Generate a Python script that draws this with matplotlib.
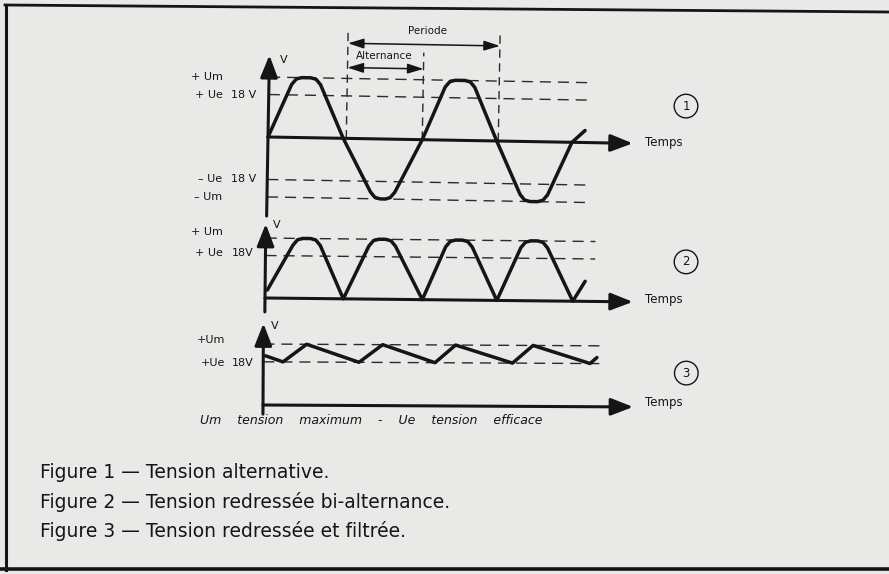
import matplotlib
matplotlib.use("Agg")
import matplotlib.pyplot as plt
from matplotlib.lines import Line2D
from matplotlib.transforms import Affine2D

# ---------------- data (time in ms, voltage in V) ----------------
UM = 25.4   # tension maximum
UE = 18.0   # tension efficace

# Figure 1 : tension alternative
t1 = [0.0, 3.0, 3.6, 4.3, 5.5, 6.2, 6.8, 9.9,
      13.6, 14.2, 14.9, 15.6, 16.2, 16.8, 20.3,
      23.2, 23.8, 24.5, 25.8, 26.5, 27.1, 30.1,
      33.3, 33.9, 34.6, 35.6, 36.3, 36.9, 40.0, 41.7]
v1 = [0.0, 22.5, 24.8, 25.4, 25.4, 24.8, 22.5, 0.0,
      -22.5, -24.8, -25.4, -25.4, -24.8, -22.5, 0.0,
      22.5, 24.8, 25.4, 25.4, 24.8, 22.5, 0.0,
      -22.5, -24.8, -25.4, -25.4, -24.8, -22.5, 0.0, 5.1]

# Figure 2 : tension redressee bi-alternance
t2 = [0.3, 3.6, 4.2, 4.9, 5.9, 6.6, 7.2, 10.3,
      13.6, 14.2, 14.9, 15.8, 16.5, 17.1, 20.7,
      23.7, 24.3, 25.0, 25.9, 26.6, 27.2, 30.5,
      33.6, 34.2, 34.9, 35.8, 36.5, 37.1, 40.5, 42.1]
v2 = [3.4, 22.5, 24.8, 25.4, 25.4, 24.8, 22.5, 0.0,
      22.5, 24.8, 25.4, 25.4, 24.8, 22.5, 0.0,
      22.5, 24.8, 25.4, 25.4, 24.8, 22.5, 0.0,
      22.5, 24.8, 25.4, 25.4, 24.8, 22.5, 0.0, 8.5]

# Figure 3 : tension redressee et filtree
t3 = [0.3, 2.6, 5.7, 12.6, 15.7, 22.6, 25.3, 32.8, 35.5, 43.0, 43.9]
v3 = [20.5, 18.0, 25.4, 18.0, 25.4, 18.0, 25.4, 18.0, 25.4, 18.0, 20.5]

# Periode / Alternance markers (ms)
t_period = [10.3, 30.3]
t_alt = [10.3, 20.3]

captions = ["Figure 1 \u2014 Tension alternative.",
            "Figure 2 \u2014 Tension redress\u00e9e bi-alternance.",
            "Figure 3 \u2014 Tension redress\u00e9e et filtr\u00e9e."]
legend_note = "Um    tension    maximum    -    Ue    tension    efficace"

# ---------------- figure ----------------
W, H = 889, 574
BG = "#e9e9e7"
INK = "#151515"
DASH = "#2a2a2a"
fig = plt.figure(figsize=(W / 100, H / 100), dpi=100, facecolor=BG)

SX = 7.6  # px per ms


def panel(ox, oy, sy, L, R, T, B, tilt):
    ax = fig.add_axes([L / W, 1 - B / H, (R - L) / W, (B - T) / H])
    ax.set_xlim((L - ox) / SX, (R - ox) / SX)
    ax.set_ylim((oy - B) / sy, (oy - T) / sy)
    ax.axis("off")
    ax.patch.set_visible(False)
    # slight rotation of the scanned drawing
    tr = ax.transData + Affine2D().rotate_deg_around(ox, H - oy, -tilt)
    return ax, tr


def axes_arrows(ax, tr, tmax, vbot, vtop):
    ap = dict(arrowstyle="-|>,head_length=0.9,head_width=0.35", lw=2.2,
              color=INK, shrinkA=0, shrinkB=0, mutation_scale=15)
    ax.annotate("", xy=(tmax, 0), xytext=(0, 0), xycoords=tr,
                textcoords=tr, arrowprops=ap)
    ax.annotate("", xy=(0, vtop), xytext=(0, vbot), xycoords=tr,
                textcoords=tr, arrowprops=ap)


def hdash(ax, tr, v, tend):
    ax.plot([0, tend], [v, v], color=DASH, lw=1.0,
            linestyle=(0, (8, 5)), clip_on=False, transform=tr)


def wave(ax, tr, t, v):
    ax.plot(t, v, color=INK, lw=2.5, solid_joinstyle="round",
            solid_capstyle="round", clip_on=False, transform=tr)


lab = dict(fontsize=8, color=INK, va="center", family="DejaVu Sans")
circ = dict(boxstyle="circle,pad=0.45", fc="none", ec=INK, lw=1.0)

# ---- Panel 1 ----
ax1, tr1 = panel(268, 137, 2.36, 195, 720, 20, 218, 1.0)
for v in (UM, UE, -UE, -UM):
    hdash(ax1, tr1, v, 42.4)
for tp in t_period:
    ax1.plot([tp, tp], [0, 46.6], color=DASH, lw=1.0,
             linestyle=(0, (6, 4)), clip_on=False, transform=tr1)
ax1.plot([t_alt[1], t_alt[1]], [0, 36.9], color=DASH, lw=1.0,
         linestyle=(0, (6, 4)), clip_on=False, transform=tr1)
dbl = dict(arrowstyle="<|-|>,head_length=0.8,head_width=0.25", lw=1.1,
           color=INK, shrinkA=0, shrinkB=0, mutation_scale=12)
ax1.annotate("", xy=(t_period[0], 40.3), xytext=(t_period[1], 40.3),
             xycoords=tr1, textcoords=tr1, arrowprops=dbl)
ax1.annotate("", xy=(t_alt[0], 30.0), xytext=(t_alt[1], 30.0),
             xycoords=tr1, textcoords=tr1, arrowprops=dbl)
ax1.text(sum(t_period) / 2 + 0.7, 45.0, "Periode", fontsize=7.5, color=INK,
         ha="center", va="center")
ax1.text(sum(t_alt) / 2, 34.4, "Alternance", fontsize=7.5, color=INK,
         ha="center", va="center")
wave(ax1, tr1, t1, v1)
axes_arrows(ax1, tr1, 48.0, -33.5, 34.7)
ax1.text(1.6, 32.6, "V", **lab)
ax1.text(-6.0, UM, "+ Um", ha="right", **lab)
ax1.text(-6.0, UE, "+ Ue", ha="right", **lab)
ax1.text(-1.5, UE, "18 V", ha="right", **lab)
ax1.text(-6.0, -UE, "\u2013 Ue", ha="right", **lab)
ax1.text(-1.5, -UE, "18 V", ha="right", **lab)
ax1.text(-6.0, -UM, "\u2013 Um", ha="right", **lab)
ax1.text(49.6, -2.5, "Temps", fontsize=8.5, color=INK, ha="left",
         va="center")
ax1.text(55.0, 13.1, "1", fontsize=8.5, color=INK, ha="center",
         va="center", bbox=circ)

# ---- Panel 2 ----
ax2, tr2 = panel(265, 298, 2.36, 195, 720, 220, 316, 0.6)
for v in (UM, UE):
    hdash(ax2, tr2, v, 43.4)
wave(ax2, tr2, t2, v2)
axes_arrows(ax2, tr2, 48.4, -5.9, 31.4)
ax2.text(1.0, 31.0, "V", **lab)
ax2.text(-5.5, UM + 2.5, "+ Um", ha="right", **lab)
ax2.text(-5.5, UE + 1.0, "+ Ue", ha="right", **lab)
ax2.text(-1.5, UE + 1.0, "18V", ha="right", **lab)
ax2.text(50.0, -0.8, "Temps", fontsize=8.5, color=INK, ha="left",
         va="center")
ax2.text(55.4, 15.3, "2", fontsize=8.5, color=INK, ha="center",
         va="center", bbox=circ)

# ---- Panel 3 ----
ax3, tr3 = panel(263, 405, 2.4, 195, 720, 318, 416, 0.3)
for v in (UM, UE):
    hdash(ax3, tr3, v, 44.3)
wave(ax3, tr3, t3, v3)
axes_arrows(ax3, tr3, 48.7, -3.8, 34.0)
ax3.text(1.0, 33.0, "V", **lab)
ax3.text(-5.0, UM + 1.5, "+Um", ha="right", **lab)
ax3.text(-5.0, UE - 0.5, "+Ue", ha="right", **lab)
ax3.text(-1.2, UE - 0.5, "18V", ha="right", **lab)
ax3.text(50.3, 1.2, "Temps", fontsize=8.5, color=INK, ha="left",
         va="center")
ax3.text(55.7, 13.3, "3", fontsize=8.5, color=INK, ha="center",
         va="center", bbox=circ)

# ---- texts ----
fig.text(200 / W, 1 - 421 / H, legend_note, fontsize=9, color=INK,
         ha="left", va="center", style="italic")
for i, cap in enumerate(captions):
    fig.text(40 / W, 1 - (473 + 29 * i) / H, cap, fontsize=13.5, color=INK,
             ha="left", va="center")

# ---- frame ----
fig.add_artist(Line2D([5 / W, 1.0], [1 - 5 / H, 1 - 12 / H],
                      transform=fig.transFigure, color=INK, lw=2.0))
fig.add_artist(Line2D([6 / W, 6 / W], [1 - 5 / H, 1 - 570 / H],
                      transform=fig.transFigure, color=INK, lw=2.2))
fig.add_artist(Line2D([0, 1.0], [1 - 569 / H, 1 - 569 / H],
                      transform=fig.transFigure, color=INK, lw=2.6))

fig.savefig("out.png", dpi=100, facecolor=BG)
